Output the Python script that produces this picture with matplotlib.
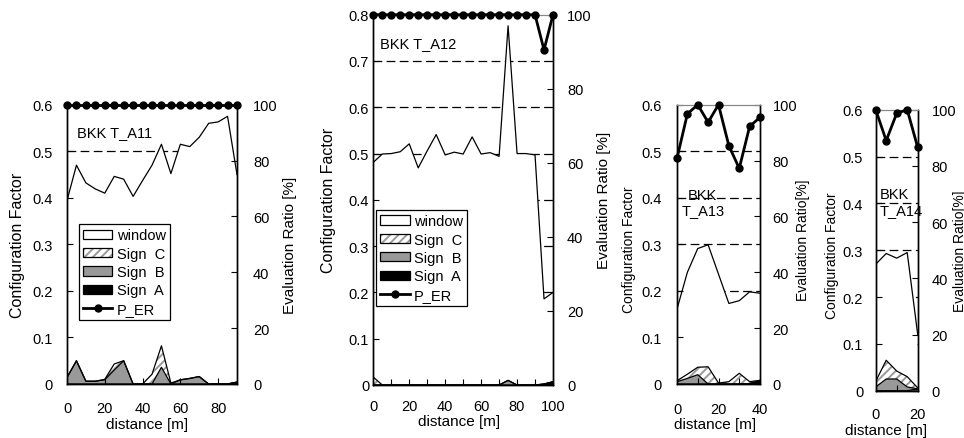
import numpy as np
import matplotlib.pyplot as plt
from matplotlib.patches import Patch
from matplotlib.lines import Line2D

plt.rcParams['font.family'] = ['Liberation Sans', 'DejaVu Sans']
plt.rcParams['hatch.linewidth'] = 1.4

# ---- data ----
# T_A11, distance 0..90 m
dist1 = list(range(0, 95, 5))
signA1 = [0, 0, 0, 0, 0, 0, 0, 0, 0, 0, 0, 0, 0, 0, 0, 0, 0, 0, 0.004]
signB1 = [0.014, 0.05, 0.006, 0.006, 0.009, 0.03, 0.05, 0, 0, 0, 0.036, 0, 0.009, 0.012, 0.016, 0, 0, 0, 0]
signC1 = [0, 0, 0, 0, 0.001, 0.013, 0, 0, 0, 0.021, 0.046, 0.002, 0, 0, 0, 0, 0, 0, 0]
window1 = [0.38, 0.42, 0.426, 0.413, 0.40, 0.403, 0.39, 0.403, 0.437, 0.449, 0.433, 0.45, 0.506,
           0.498, 0.514, 0.56, 0.563, 0.575, 0.446]
per1 = [100] * 19

# T_A12, distance 0..100 m
dist2 = list(range(0, 105, 5))
signA2 = [0] * 19 + [0.002, 0.007]
signB2 = [0] * 15 + [0.01] + [0] * 5
signC2 = [0.017] + [0] * 20
window2 = [0.464, 0.499, 0.50, 0.504, 0.521, 0.469, 0.506, 0.541, 0.497, 0.503, 0.499, 0.536,
           0.499, 0.502, 0.494, 0.766, 0.50, 0.50, 0.497, 0.184, 0.193]
per2 = [100] * 19 + [90.5, 100]

# T_A13, distance 0..40 m
dist3 = list(range(0, 45, 5))
signA3 = [0, 0, 0, 0, 0, 0, 0, 0.001, 0.007]
signB3 = [0.005, 0.012, 0.02, 0, 0, 0, 0, 0, 0]
signC3 = [0.002, 0.009, 0.016, 0.037, 0.002, 0.005, 0.023, 0.004, 0.001]
window3 = [0.154, 0.219, 0.255, 0.262, 0.234, 0.168, 0.156, 0.193, 0.187]
per3 = [80.8, 96.7, 100, 93.7, 100, 85.3, 77.2, 92.2, 95.5]

# T_A14, distance 0..20 m
dist4 = list(range(0, 25, 5))
signA4 = [0, 0, 0, 0, 0.004]
signB4 = [0.008, 0.025, 0.025, 0.008, 0]
signC4 = [0.012, 0.04, 0.017, 0.022, 0.002]
window4 = [0.25, 0.228, 0.241, 0.265, 0.114]
per4 = [100, 89, 98.7, 100, 86.6]

GRAY = '#999999'
HATCH = '#9a9a9a'


def panel(fig, rect, x, a, b, c, w, per, ymax, xmax, xminor, xlab_step, name, opt):
    ax = fig.add_axes(rect)
    x = np.array(x, dtype=float)
    ca = np.array(a)
    cb = ca + np.array(b)
    cc = cb + np.array(c)
    cw = cc + np.array(w)

    # dashed grid lines (hidden behind the white window area)
    for g in np.arange(0.1, ymax - 0.05, 0.1):
        ax.axhline(g, color='black', lw=0.9, ls=(0, (7, 3.5)), zorder=0.5)

    ax.fill_between(x, 0, ca, facecolor='black', lw=0, zorder=1)
    ax.fill_between(x, ca, cb, facecolor=GRAY, lw=0, zorder=1)
    ax.fill_between(x, cb, cc, facecolor='white', edgecolor=HATCH, hatch='////', lw=0, zorder=1)
    ax.fill_between(x, cc, cw, facecolor='white', lw=0, zorder=1)
    for top in (ca, cb, cc, cw):
        ax.plot(x, top, color='black', lw=0.9, zorder=1.5)

    ax.set_xlim(0, xmax)
    ax.set_ylim(0, ymax)
    ticks = np.arange(0, xmax + 0.1, xminor)
    ax.set_xticks(ticks)
    ax.set_xticklabels([str(int(t)) if t % xlab_step == 0 else '' for t in ticks])
    ax.set_yticks(np.arange(0, ymax + 0.01, 0.1))
    ax.set_yticklabels(['0'] + ['%.1f' % t for t in np.arange(0.1, ymax + 0.01, 0.1)])
    ax.tick_params(axis='y', direction='in', length=4, labelsize=10.5, pad=opt['lpad'])
    ax.tick_params(axis='x', direction='in', length=4, labelsize=10.5, pad=opt['bpad'])
    ax.tick_params(top=False, right=False)
    ax.set_ylabel('Configuration Factor', fontsize=opt['cf_size'], va='center')
    ax.yaxis.set_label_coords(opt['cf_x'], opt['cf_y'])
    ax.set_xlabel('distance [m]', fontsize=11, va='center')
    ax.xaxis.set_label_coords(opt['dx'], opt['dy'])

    ax2 = ax.twinx()
    ax2.plot(x, per, color='black', lw=2, marker='o', ms=5, zorder=3, clip_on=False)
    ax2.set_ylim(0, 100)
    ax2.set_yticks(range(0, 101, 20))
    ax2.tick_params(axis='y', direction='in', length=4, labelsize=10.5, pad=opt['rpad'])
    ax2.set_ylabel(opt['er_text'], fontsize=opt['er_size'], va='center')
    ax2.yaxis.set_label_coords(opt['er_x'], opt['er_y'])

    for a_ in (ax, ax2):
        a_.spines['top'].set_color('#888888')
        a_.spines['top'].set_linewidth(0.8)
        for s in ('left', 'right', 'bottom'):
            a_.spines[s].set_linewidth(1.0)

    ax2.text(opt['tx'], opt['ty'], name, transform=ax.transAxes, fontsize=10.5,
             ha=opt['tha'], va='center', linespacing=1.15, clip_on=False, zorder=5)
    return ax, ax2


def legend(ax, anchor):
    handles = [
        Patch(facecolor='white', edgecolor='black', lw=0.9),
        (Patch(facecolor='white', edgecolor=HATCH, hatch='////', lw=0),
         Patch(facecolor='none', edgecolor='black', lw=0.9)),
        Patch(facecolor=GRAY, edgecolor='black', lw=0.9),
        Patch(facecolor='black', edgecolor='black', lw=0.9),
        Line2D([], [], color='black', lw=2, marker='o', ms=5),
    ]
    labels = ['window', 'Sign  C', 'Sign  B', 'Sign  A', 'P_ER']
    leg = ax.legend(handles, labels, loc='upper left', bbox_to_anchor=anchor, borderaxespad=0,
                    fontsize=10.5, frameon=True, fancybox=False, framealpha=1, edgecolor='black',
                    borderpad=0.3, labelspacing=0.3, handlelength=2.0, handleheight=0.6,
                    handletextpad=0.3)
    leg.get_frame().set_linewidth(0.9)
    leg.set_zorder(10)


fig = plt.figure(figsize=(9.64, 4.39), dpi=100)

ax1, ax1b = panel(fig, [67 / 964, 54 / 439, 170 / 964, 279.3 / 439], dist1, signA1, signB1, signC1,
                  window1, per1, 0.6, 90, 20, 20, 'BKK T_A11',
                  dict(lpad=10, bpad=12, rpad=11.5, cf_size=11.5, cf_x=-0.294, cf_y=0.5,
                       dx=0.47, dy=-0.143, er_text='Evaluation Ratio [%]', er_size=11,
                       er_x=1.31, er_y=0.5, tx=0.059, ty=0.902, tha='left'))
legend(ax1b, (0.07, 0.573))

ax2, ax2b = panel(fig, [373.3 / 964, 53 / 439, 179.7 / 964, 370.3 / 439], dist2, signA2, signB2, signC2,
                  window2, per2, 0.8, 100, 10, 20, 'BKK T_A12',
                  dict(lpad=3, bpad=10, rpad=10, cf_size=11.5, cf_x=-0.252, cf_y=0.5,
                       dx=0.477, dy=-0.097, er_text='Evaluation Ratio [%]', er_size=11,
                       er_x=1.284, er_y=0.5, tx=0.037, ty=0.923, tha='left'))
legend(ax2b, (0.015, 0.473))

panel(fig, [677 / 964, 54 / 439, 83 / 964, 279.3 / 439], dist3, signA3, signB3, signC3,
      window3, per3, 0.6, 40, 10, 20, 'BKK\nT_A13',
      dict(lpad=11, bpad=13, rpad=9, cf_size=10, cf_x=-0.578, cf_y=0.483,
           dx=0.458, dy=-0.145, er_text='Evaluation Ratio[%]', er_size=10,
           er_x=1.518, er_y=0.519, tx=0.31, ty=0.65, tha='center'))

panel(fig, [875.7 / 964, 47.3 / 439, 42 / 964, 281 / 439], dist4, signA4, signB4, signC4,
      window4, per4, 0.6, 20, 10, 20, 'BKK\nT_A14',
      dict(lpad=9, bpad=12, rpad=10, cf_size=10, cf_x=-1.048, cf_y=0.483,
           dx=0.245, dy=-0.14, er_text='Evaluation Ratio[%]', er_size=10,
           er_x=2.007, er_y=0.5, tx=0.10, ty=0.672, tha='left'))

fig.savefig('out.png', dpi=100)
